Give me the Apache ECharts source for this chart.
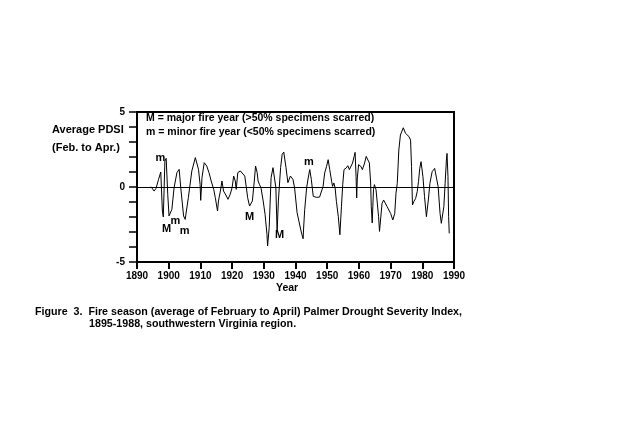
<!DOCTYPE html>
<html><head><meta charset="utf-8">
<script src="https://cdn.jsdelivr.net/npm/echarts@6/dist/echarts.min.js"></script>
<style>html,body{margin:0;padding:0;background:#fff}#c{width:640px;height:439px}</style>
</head><body><div id="c"></div>
<script>
const years = [1894.4,1895.4,1896.0,1896.8,1897.5,1898.0,1898.3,1898.8,1899.2,1899.7,1900.1,1900.4,1901.0,1901.7,1902.6,1903.3,1903.8,1904.7,1905.2,1906.2,1907.3,1908.4,1908.7,1909.4,1909.9,1910.1,1910.5,1911.2,1912.0,1912.7,1913.4,1914.2,1914.7,1915.4,1915.7,1916.3,1916.8,1917.3,1918.2,1918.7,1919.4,1920.0,1920.5,1921.0,1921.3,1921.8,1922.6,1923.1,1924.0,1924.5,1924.9,1925.5,1926.1,1926.4,1927.0,1927.4,1927.9,1928.2,1928.6,1929.1,1929.8,1930.4,1931.0,1931.2,1931.7,1932.3,1932.9,1933.4,1933.8,1934.2,1934.6,1935.3,1935.8,1936.3,1937.0,1937.6,1938.4,1939.2,1939.7,1940.5,1941.4,1941.9,1942.4,1942.6,1942.9,1943.5,1944.0,1944.5,1945.0,1945.3,1945.6,1946.6,1947.6,1948.2,1948.7,1949.2,1949.8,1950.3,1950.8,1951.4,1951.7,1952.1,1952.5,1952.9,1953.5,1954.0,1954.5,1954.9,1955.3,1956.0,1956.5,1957.0,1957.5,1958.0,1958.5,1958.8,1959.1,1959.3,1959.5,1959.9,1960.6,1961.1,1961.8,1962.3,1962.8,1963.3,1963.7,1963.9,1964.2,1964.6,1964.9,1965.4,1965.8,1966.2,1966.5,1966.8,1967.3,1967.8,1968.4,1968.9,1970.0,1970.7,1971.0,1971.3,1971.7,1972.1,1972.6,1973.1,1974.0,1974.7,1975.8,1976.3,1976.6,1976.9,1977.3,1977.9,1978.4,1978.8,1979.2,1979.6,1980.2,1980.7,1981.3,1981.9,1982.4,1983.1,1983.9,1984.4,1985.0,1985.6,1986.0,1986.5,1986.8,1987.2,1987.6,1987.8,1988.1,1988.3,1988.5];
const pdsi = [0.02,-0.27,-0.09,0.51,1.0,-1.6,-2.0,1.73,1.91,-0.49,-1.93,-1.82,-1.49,-0.04,0.96,1.18,-0.04,-1.93,-2.16,-0.71,1.07,1.96,2.07,1.18,0.18,-0.89,0.62,1.62,1.4,0.96,0.4,-0.16,-0.71,-1.6,-0.93,-0.27,0.4,-0.27,-0.6,-0.82,-0.49,-0.04,0.73,0.4,-0.16,0.96,1.07,1.18,0.73,-0.04,-0.71,-1.27,-1.38,-0.93,0.4,1.4,0.96,0.4,0.18,-0.04,-0.93,-1.82,-3.16,-3.93,-2.7,0.62,1.29,1.4,-0.04,-3.0,-0.93,1.29,2.18,2.33,1.29,0.29,0.73,0.51,-0.04,-1.71,-2.6,-3.07,-3.45,-2.6,-1.51,-0.07,0.6,1.16,0.49,-0.07,-0.62,-0.69,-0.67,-0.58,0.04,0.93,1.38,1.82,1.16,0.38,0.04,0.27,-0.07,-0.96,-1.96,-3.18,-1.29,0.16,1.16,1.27,1.42,1.16,1.04,1.6,2.04,2.31,0.71,-0.73,0.6,1.49,1.38,1.16,1.6,2.04,2.16,1.6,0.27,-1.29,-2.4,-0.18,0.16,-0.18,-1.07,-1.96,-2.96,-2.98,-1.09,-0.87,-0.98,-1.31,-1.76,-2.2,-2.31,-1.76,-0.42,0.24,2.47,3.47,3.95,3.58,3.36,3.13,1.36,-1.2,-0.98,-0.76,-0.31,0.36,1.24,1.69,0.69,-0.64,-1.98,-0.87,0.24,1.02,1.24,1.36,0.02,-1.76,-2.42,-2.42,-1.31,0.24,1.8,2.24,0.69,-1.98,-3.09];
const fireMarkYears = [1897.4,1899.3,1902.1,1905.0,1925.5,1935.0,1944.2];
const fireMarkValues = [1.91,-2.82,-2.29,-2.95,-2.02,-3.22,1.65];
const fireMarkTypes = ['m','M','m','m','M','M','m'];
const xTicks = [1890,1900,1910,1920,1930,1940,1950,1960,1970,1980,1990];
const yTickLabels = [-5,0,5];

const F = '"Liberation Sans", Arial, sans-serif';
const chart = echarts.init(document.getElementById('c'), null, {renderer:'canvas'});
const lineData = years.map((y,i)=>[y,pdsi[i]]);
const markData = fireMarkYears.map((y,i)=>[y,fireMarkValues[i],fireMarkTypes[i]]);
const txt = (left, top, text, size) => ({type:'text', left, top, silent:true,
  style:{text, fill:'#000', font:'bold '+size+'px '+F}});
chart.setOption({
  animation:false,
  backgroundColor:'#fff',
  grid:{left:137, top:112, width:317, height:150, show:true, borderColor:'#000', borderWidth:2, backgroundColor:'transparent'},
  xAxis:{type:'value', position:'bottom', min:xTicks[0], max:xTicks[xTicks.length-1], interval:10,
    axisLine:{show:true, onZero:false, lineStyle:{color:'#000', width:2}},
    axisTick:{show:true, inside:false, length:7, lineStyle:{color:'#000', width:2, opacity:1}},
    axisLabel:{color:'#000', fontWeight:'bold', fontSize:10, fontFamily:F, margin:9, showMinLabel:true, showMaxLabel:true,
      formatter:v=>String(v)},
    splitLine:{show:false}},
  yAxis:{type:'value', min:-5, max:5, interval:1,
    axisLine:{show:true, onZero:false, lineStyle:{color:'#000', width:2}},
    axisTick:{show:true, length:8, lineStyle:{color:'#000', width:1.5}},
    axisLabel:{color:'#000', fontWeight:'bold', fontSize:10, fontFamily:F, margin:12,
      formatter:v=> yTickLabels.includes(v) ? String(v) : ''},
    splitLine:{show:false}},
  series:[
    {type:'line', data:lineData, showSymbol:false, symbol:'none',
     lineStyle:{color:'#000', width:1}, silent:true,
     markLine:{silent:true, symbol:'none', label:{show:false},
       lineStyle:{color:'#000', width:1, type:'solid'}, data:[{yAxis:0}]}},
    {type:'scatter', data:markData, symbolSize:0, itemStyle:{color:'#000', opacity:1}, silent:true,
     label:{show:true, position:'inside', formatter:p=>p.value[2], color:'#000', opacity:1,
       fontWeight:'bold', fontSize:11, fontFamily:F}}
  ],
  graphic:[
    txt(146,113,'M = major fire year (>50% specimens scarred)',10.5),
    txt(146,127,'m = minor fire year (<50% specimens scarred)',10.5),
    txt(52,124,'Average PDSI',11),
    txt(52,142,'(Feb. to Apr.)',11),
    txt(276,283,'Year',10.5),
    txt(35,307,'Figure  3.  Fire season (average of February to April) Palmer Drought Severity Index,',10.7),
    txt(89,319,'1895-1988, southwestern Virginia region.',10.7)
  ]
});
</script></body></html>
